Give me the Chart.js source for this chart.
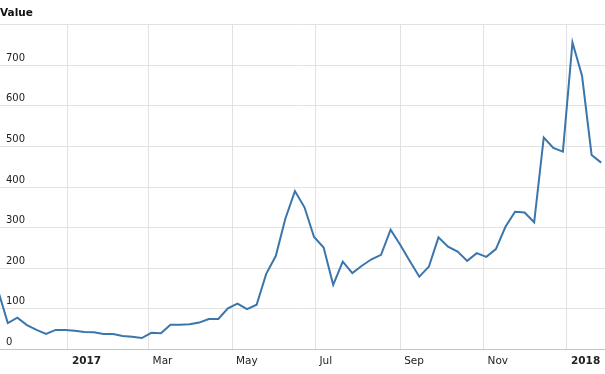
<!DOCTYPE html>
<html>
<head>
<meta charset="utf-8">
<script src="https://cdn.jsdelivr.net/npm/chart.js@4/dist/chart.umd.min.js"></script>
<style>
  html, body { margin: 0; padding: 0; background: #fff; }
  #wrap { width: 605px; height: 374px; }
</style>
</head>
<body>
<div id="wrap"><canvas id="trendChart" width="605" height="374"></canvas></div>
<script>
// weekly values, first week starting 2016-11-11
const firstWeek = '2016-11-11';
const values = [
  144, 65, 78, 60, 48, 38, 48, 48, 46, 43,
  42, 38, 38, 33, 31, 28, 41, 40, 61, 61,
  62, 66, 75, 75, 101, 113, 99, 110, 186, 230,
  322, 390, 350, 277, 251, 159, 216, 188, 206, 222,
  233, 295, 258, 218, 179, 204, 276, 253, 241, 218,
  237, 228, 247, 302, 339, 337, 313, 522, 496, 487,
  756, 674, 479, 460
];
const tickDates = ['2017-01-01', '2017-03-01', '2017-05-01', '2017-07-01', '2017-09-01', '2017-11-01', '2018-01-01'];
const tickLabels = ['2017', 'Mar', 'May', 'Jul', 'Sep', 'Nov', '2018'];
const yTicks = [0, 100, 200, 300, 400, 500, 600, 700];

// days counted from 1 Jan 2017
const origin = Date.UTC(2017, 0, 1);
function dayOf(s) {
  const p = s.split('-').map(Number);
  return (Date.UTC(p[0], p[1] - 1, p[2]) - origin) / 86400000;
}
const startDay = dayOf(firstWeek);
const points = values.map((v, i) => ({ x: startDay + 7 * i, y: v }));
const tickDays = tickDates.map(dayOf);

const font = 'DejaVu Sans';

new Chart(document.getElementById('trendChart').getContext('2d'), {
  type: 'line',
  data: {
    datasets: [{
      label: 'Value',
      data: points,
      borderColor: '#3a76ab',
      borderWidth: 2,
      fill: false,
      tension: 0,
      pointRadius: 0,
      pointHoverRadius: 0
    }]
  },
  options: {
    responsive: false,
    animation: false,
    layout: { padding: { bottom: 0 } },
    plugins: {
      legend: { display: false },
      tooltip: { enabled: false },
      title: {
        display: true,
        text: 'Value',
        align: 'start',
        color: '#111',
        font: { family: font, size: 10.5, weight: 'bold' },
        padding: { top: 7, bottom: 5 }
      }
    },
    scales: {
      x: {
        type: 'linear',
        min: -49.7,
        max: 392.8,
        afterBuildTicks: axis => { axis.ticks = tickDays.map(v => ({ value: v })); },
        grid: { color: '#e2e2e2', drawTicks: false },
        border: { color: '#c4c4c4' },
        ticks: {
          autoSkip: false,
          maxRotation: 0,
          align: 'start',
          labelOffset: 4,
          padding: 6,
          color: '#222',
          font: ctx => ({
            family: font,
            size: 10.5,
            weight: /^\d{4}$/.test(tickLabels[ctx.index]) ? 'bold' : 'normal'
          }),
          callback: (value, index) => tickLabels[index]
        }
      },
      y: {
        min: 0,
        max: 800,
        afterFit: axis => { axis.width = 0; },
        afterBuildTicks: axis => { axis.ticks = yTicks.concat([800]).map(v => ({ value: v })); },
        grid: {
          color: ctx => (ctx.tick && ctx.tick.value === 0 ? '#c4c4c4' : '#e2e2e2'),
          drawTicks: false
        },
        border: { display: false },
        ticks: {
          mirror: true,
          padding: 6,
          labelOffset: -7,
          color: '#222',
          font: { family: font, size: 10 },
          callback: v => (yTicks.includes(v) ? String(v) : '')
        }
      }
    }
  }
});
</script>
</body>
</html>
